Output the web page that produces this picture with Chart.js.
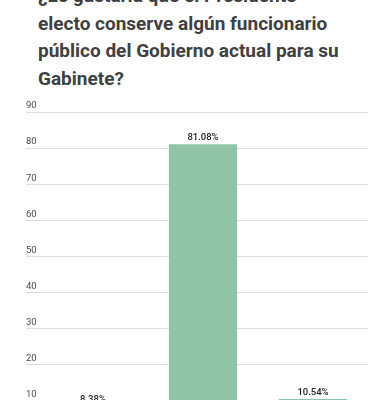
<!DOCTYPE html>
<html>
<head>
<meta charset="utf-8">
<script src="https://cdn.jsdelivr.net/npm/chart.js@4"></script>
<style>
  html, body { margin: 0; padding: 0; background: #fff; width: 390px; height: 400px; overflow: hidden; position: relative; }
  #title { position: absolute; left: 38px; top: -18px; width: 352px; white-space: nowrap; font-family: Roboto, "Noto Sans", sans-serif; font-weight: bold; font-size: 19px; line-height: 27.5px; color: #404040; }
  #wrap { position: absolute; left: 0; top: 90px; width: 390px; height: 360px; }
</style>
</head>
<body>
<div id="title">¿Le gustaría que el Presidente<br>electo conserve algún funcionario<br>público del Gobierno actual para su<br>Gabinete?</div>
<div id="wrap"><canvas id="c" width="390" height="360"></canvas></div>
<script>
const categories = ["Sí", "No", "No sabe / No contesta"];
const values = [8.38, 81.08, 10.54];
const yTicks = [0, 10, 20, 30, 40, 50, 60, 70, 80, 90];

const barLabels = {
  id: 'barLabels',
  afterDatasetsDraw(chart) {
    const ctx = chart.ctx;
    const meta = chart.getDatasetMeta(0);
    ctx.save();
    ctx.font = '500 9.5px Roboto, sans-serif';
    ctx.fillStyle = '#1e1e1e';
    ctx.textAlign = 'center';
    ctx.textBaseline = 'bottom';
    meta.data.forEach((bar, i) => {
      ctx.fillText(values[i].toFixed(2) + '%', bar.x, bar.y - 2);
    });
    ctx.restore();
  }
};

new Chart(document.getElementById('c'), {
  type: 'bar',
  data: {
    labels: categories,
    datasets: [{
      data: values,
      backgroundColor: 'rgb(143,196,167)',
      borderWidth: 0,
      barPercentage: 0.62,
      categoryPercentage: 1
    }]
  },
  options: {
    responsive: false,
    animation: false,
    devicePixelRatio: 1,
    layout: { padding: { left: 26, right: 22, top: 22, bottom: 13 } },
    plugins: { legend: { display: false }, tooltip: { enabled: false }, title: { display: false } },
    scales: {
      x: { display: false },
      y: {
        min: 0, max: 90,
        afterBuildTicks(axis) { axis.ticks = yTicks.map(v => ({ value: v })); },
        afterFit(axis) { axis.width = 12; },
        border: { display: false },
        grid: { color: '#dcdcdc', lineWidth: 1, tickLength: 12, drawTicks: true, tickColor: '#dcdcdc' },
        ticks: {
          crossAlign: 'far',
          padding: 0,
          labelOffset: -6,
          color: '#4a4a4a',
          font: { family: 'Roboto, sans-serif', size: 9.5 },
          callback: (v) => v === 0 ? '' : String(v)
        }
      }
    }
  },
  plugins: [barLabels]
});
</script>
</body>
</html>
